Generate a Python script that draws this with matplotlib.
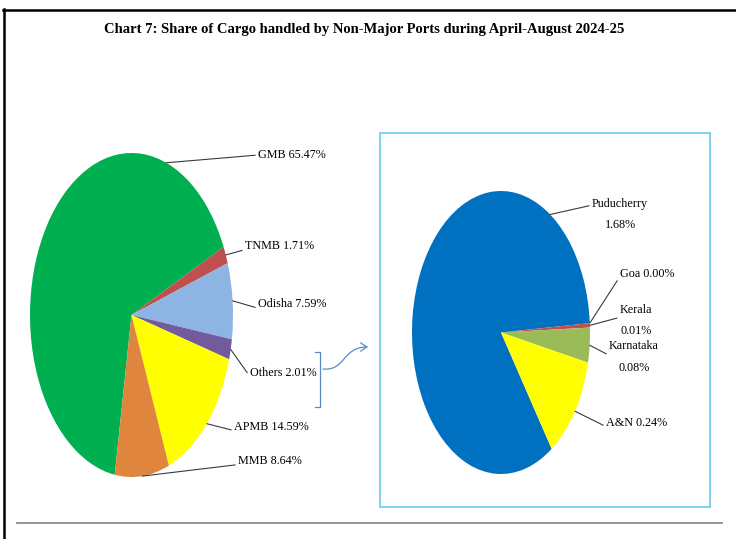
import matplotlib.pyplot as plt
from matplotlib.lines import Line2D
from matplotlib.patches import Rectangle, FancyArrowPatch
from matplotlib.path import Path
import numpy as np

# share of cargo, non-major ports, Apr-Aug 2024-25 (%)
main_names = ['GMB', 'TNMB', 'Odisha', 'Others', 'APMB', 'MMB']
main_shares = [65.47, 1.71, 7.59, 2.01, 14.59, 8.64]
main_colors = ['#00B050', '#C0504D', '#8EB4E3', '#735A9C', '#FFFF00', '#DF853E']

# break-up of "Others"
other_names = ['Puducherry', 'Goa', 'Kerala', 'Karnataka', 'A&N']
other_shares = [1.68, 0.00, 0.01, 0.08, 0.24]
other_colors = ['#0070C0', '#4F81BD', '#C0504D', '#9BBB59', '#FFFF00']

W, H = 736, 539
plt.rcParams['font.family'] = 'Liberation Serif'

fig = plt.figure(figsize=(W / 100, H / 100), dpi=100)


def fx(x):
    return x / W


def fy(y):
    return 1 - y / H


def pie_axes(x0, y0, x1, y1):
    # axes box equal to the (stretched) pie's bounding box, in image pixels
    ax = fig.add_axes([fx(x0), fy(y1), (x1 - x0) / W, (y1 - y0) / H])
    return ax


def draw_pie(ax, values, colors, start):
    wedges, _ = ax.pie(values, colors=colors, startangle=start, counterclock=False,
                       radius=1, wedgeprops=dict(linewidth=0))
    ax.set_aspect('auto')
    ax.set_xlim(-1, 1)
    ax.set_ylim(-1, 1)
    ax.axis('off')
    return wedges


def label(ax, wedge, text, tx, ty, relpos, ang=None, ha='left'):
    if ang is None:
        ang = (wedge.theta1 + wedge.theta2) / 2
    a = np.deg2rad(ang)
    ax.annotate(text, xy=(np.cos(a), np.sin(a)), xycoords='data',
                xytext=(tx, H - ty), textcoords='figure pixels',
                ha=ha, va='center', fontsize=8.7, color='black',
                linespacing=2.05, annotation_clip=False,
                arrowprops=dict(arrowstyle='-', color='#3A3A3A', lw=0.8,
                                shrinkA=0, shrinkB=0, relpos=relpos))


# main pie
ax1 = pie_axes(30, 153, 233, 477)
w1 = draw_pie(ax1, main_shares, main_colors, 260.5)
main_pos = [(258, 155, (0, 0.5), 70), (245, 246, (0, 0.2), None), (258, 304, (0, 0.15), None),
            (250, 373, (0, 0.2), None), (234, 427, (0, 0.2), None), (238, 461, (0, 0.2), None)]
for w, n, v, (tx, ty, rp, ang) in zip(w1, main_names, main_shares, main_pos):
    label(ax1, w, f'{n} {v:.2f}%', tx, ty, rp, ang)

# others pie
ax2 = pie_axes(412, 191, 590, 474)
w2 = draw_pie(ax2, other_shares, other_colors, 304.7)
other_pos = [(620, 214.5, (0, 0.78), 56.5, 'center', '\n'),
             (620, 274, (0, 0.3), None, 'left', ' '),
             (636, 320.7, (0, 0.6), None, 'center', '\n'),
             (634, 357, (0, 0.55), None, 'center', '\n'),
             (606, 423, (0, 0.2), None, 'left', ' ')]
for w, n, v, (tx, ty, rp, ang, ha, sep) in zip(w2, other_names, other_shares, other_pos):
    label(ax2, w, f'{n}{sep}{v:.2f}%', tx, ty, rp, ang, ha)

# title
fig.text(fx(364), fy(30), 'Chart 7: Share of Cargo handled by Non-Major Ports during April-August 2024-25',
         ha='center', va='center', fontsize=10.5, fontweight='bold')

# frame lines
fig.add_artist(Line2D([fx(3), fx(W)], [fy(10), fy(10)], color='black', lw=1.8))
fig.add_artist(Line2D([fx(4), fx(4)], [fy(9), fy(H)], color='black', lw=1.8))
fig.add_artist(Line2D([fx(17), fx(722)], [fy(523), fy(523)], color='#8C8C8C', lw=1.3))

# box round the "Others" pie
fig.add_artist(Rectangle((fx(379.5), fy(506.5)), (709.5 - 379.5) / W, (506.5 - 133) / H,
                         transform=fig.transFigure, fill=False, edgecolor='#5CC3EE', lw=1.1))

# bracket and curved arrow
blue = '#5B88C4'
fig.add_artist(Line2D([fx(315), fx(319.5), fx(319.5), fx(315)],
                      [fy(352), fy(352), fy(407), fy(407)], color=blue, lw=0.9))
curve = Path([(fx(323), fy(369)), (fx(346), fy(371)), (fx(342), fy(347)), (fx(368), fy(347))],
             [Path.MOVETO, Path.CURVE4, Path.CURVE4, Path.CURVE4])
fig.add_artist(FancyArrowPatch(path=curve, transform=fig.transFigure, color=blue, lw=0.9,
                               arrowstyle='->,head_length=0.45,head_width=0.3', mutation_scale=10))

fig.savefig('out.png', dpi=100)
